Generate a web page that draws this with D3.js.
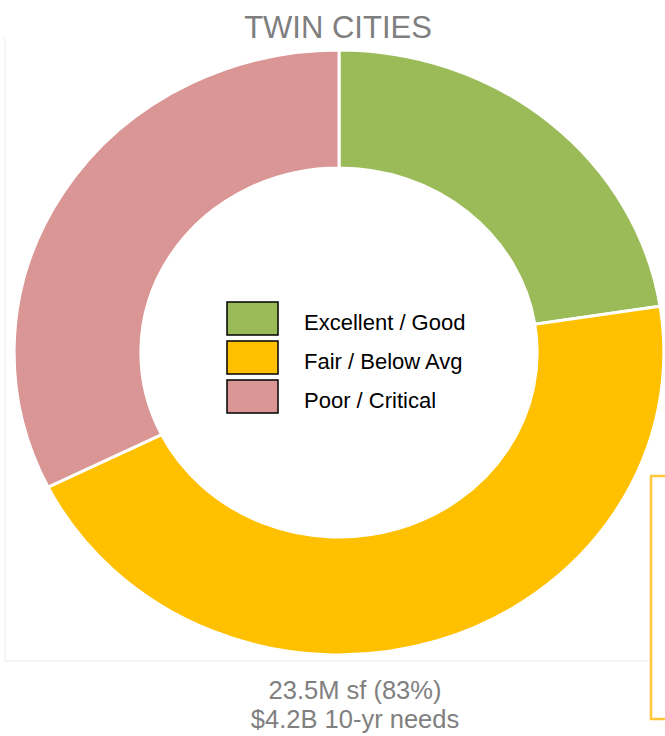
<!DOCTYPE html>
<html>
<head>
<meta charset="utf-8">
<script src="https://cdn.jsdelivr.net/npm/d3@7"></script>
<style>
  body { margin: 0; background: #fff; }
  svg { display: block; font-family: "Liberation Sans", Arial, sans-serif; }
</style>
</head>
<body>
<div id="chart"></div>
<script>
var width = 665;
var height = 736;

// data (million sf by condition)
var categories = ["Excellent / Good", "Fair / Below Avg", "Poor / Critical"];
var values = [5.3, 10.6, 7.6];
var colors = ["#9BBB59", "#FFC000", "#D99694"];
var title = "TWIN CITIES";
var footer = ["23.5M sf (83%)", "$4.2B 10-yr needs"];

var svg = d3.select("#chart")
            .append("svg")
            .attr("width", width)
            .attr("height", height);

// faint panel frame
svg.append("path")
    .attr("d", "M5,38 L5,661 L650,661")
    .style("fill", "none")
    .style("stroke", "#ececec")
    .style("stroke-width", 1);

// yellow box peeking in from the right
svg.append("rect")
    .attr("x", 651)
    .attr("y", 476)
    .attr("width", 60)
    .attr("height", 243)
    .style("fill", "none")
    .style("stroke", "#FFC73A")
    .style("stroke-width", 2.5);

svg.append("text")
    .attr("x", 338)
    .attr("y", 38)
    .attr("text-anchor", "middle")
    .style("font-size", "31px")
    .style("fill", "#7f7f7f")
    .text(title);

var color = d3.scaleOrdinal()
            .domain(categories)
            .range(colors);

var pie = d3.pie()
            .sort(null)
            .value(function(d){ return d.value; });

var arc = d3.arc()
            .innerRadius(184.5)
            .outerRadius(302.5);

var slices = categories.map(function(c, i){
    return {name: c, value: values[i]};
});

// donut is stretched a bit wider than tall in the original
var g = svg.append("g")
            .attr("transform", "translate(339,352.5) scale(1.074,1)");

g.selectAll("path")
    .data(pie(slices))
    .enter()
    .append("path")
    .attr("d", arc)
    .attr("vector-effect", "non-scaling-stroke")
    .style("fill", function(d){ return color(d.data.name); })
    .style("stroke", "#fff")
    .style("stroke-width", 3);

// legend in the hole
var legend = svg.append("g")
                .attr("transform", "translate(227,302)");

var keys = legend.selectAll("g.key")
                .data(categories)
                .enter()
                .append("g")
                .attr("class", "key")
                .attr("transform", function(d, i){ return "translate(0," + (i * 39) + ")"; });

keys.append("rect")
    .attr("width", 51)
    .attr("height", 33)
    .style("fill", function(d){ return color(d); })
    .style("stroke", "#000")
    .style("stroke-width", 1.5);

keys.append("text")
    .attr("x", 77)
    .attr("y", 28)
    .style("font-size", "22px")
    .style("fill", "#000")
    .text(function(d){ return d; });

svg.selectAll("text.footer")
    .data(footer)
    .enter()
    .append("text")
    .attr("class", "footer")
    .attr("x", 355)
    .attr("y", function(d, i){ return 699 + i * 29; })
    .attr("text-anchor", "middle")
    .style("font-size", "25.5px")
    .style("fill", "#808080")
    .text(function(d){ return d; });
</script>
</body>
</html>
